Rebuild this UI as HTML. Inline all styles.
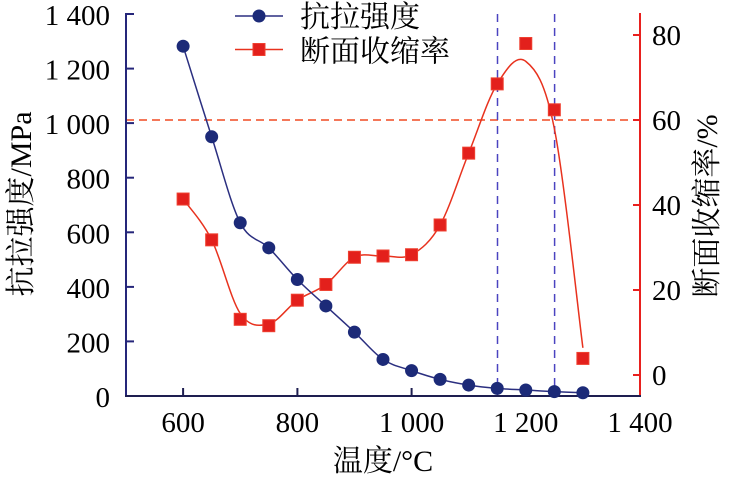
<!DOCTYPE html>
<html><head><meta charset="utf-8"><style>
html,body{margin:0;padding:0;background:#fff;}
svg{display:block;}
.num{font-family:"Liberation Serif","Noto Serif CJK SC",serif;font-size:29px;fill:#000;}
.cjk{font-family:"Liberation Serif","Noto Serif CJK SC",serif;font-size:30px;fill:#000;}
</style></head><body>
<svg id="c" width="731" height="480" viewBox="0 0 731 480" xmlns="http://www.w3.org/2000/svg">
<!-- dashed reference lines -->
<line x1="126" y1="120" x2="640" y2="120" stroke="#f04a22" stroke-width="1.5" stroke-dasharray="8,5"/>
<line x1="497.5" y1="14" x2="497.5" y2="396" stroke="#4a44c0" stroke-width="1.5" stroke-dasharray="8,6"/>
<line x1="554.6" y1="14" x2="554.6" y2="396" stroke="#4a44c0" stroke-width="1.5" stroke-dasharray="8,6"/>
<!-- axes -->
<line x1="126" y1="13" x2="126" y2="397" stroke="#25267a" stroke-width="2"/>
<line x1="640" y1="13" x2="640" y2="397" stroke="#e8201e" stroke-width="2"/>
<line x1="125" y1="396" x2="641" y2="396" stroke="#1e1e50" stroke-width="2"/>
<g stroke="#25267a" stroke-width="2">
<line x1="126" y1="14" x2="134" y2="14"/>
<line x1="126" y1="68.6" x2="134" y2="68.6"/>
<line x1="126" y1="123.1" x2="134" y2="123.1"/>
<line x1="126" y1="177.7" x2="134" y2="177.7"/>
<line x1="126" y1="232.3" x2="134" y2="232.3"/>
<line x1="126" y1="286.9" x2="134" y2="286.9"/>
<line x1="126" y1="341.4" x2="134" y2="341.4"/>
</g>
<g stroke="#1e1e50" stroke-width="2">
<line x1="183.1" y1="396" x2="183.1" y2="388"/>
<line x1="297.4" y1="396" x2="297.4" y2="388"/>
<line x1="411.6" y1="396" x2="411.6" y2="388"/>
<line x1="525.8" y1="396" x2="525.8" y2="388"/>
</g>
<g stroke="#e8201e" stroke-width="2">
<line x1="640" y1="35" x2="633" y2="35"/>
<line x1="640" y1="120" x2="633" y2="120"/>
<line x1="640" y1="205" x2="633" y2="205"/>
<line x1="640" y1="290" x2="633" y2="290"/>
<line x1="640" y1="375" x2="633" y2="375"/>
</g>
<!-- left tick labels -->
<g class="num" text-anchor="end">
<text x="110" y="25">1 400</text>
<text x="110" y="79.6">1 200</text>
<text x="110" y="134.1">1 000</text>
<text x="110" y="188.7">800</text>
<text x="110" y="243.3">600</text>
<text x="110" y="297.9">400</text>
<text x="110" y="352.4">200</text>
<text x="110" y="407">0</text>
</g>
<!-- bottom tick labels -->
<g class="num" text-anchor="middle">
<text x="183.1" y="432">600</text>
<text x="297.4" y="432">800</text>
<text x="411.6" y="432">1 000</text>
<text x="525.8" y="432">1 200</text>
<text x="640" y="432">1 400</text>
</g>
<!-- right tick labels -->
<g class="num" text-anchor="start">
<text x="652" y="45">80</text>
<text x="652" y="130">60</text>
<text x="652" y="215">40</text>
<text x="652" y="300">20</text>
<text x="652" y="385">0</text>
</g>
<!-- titles -->
<text class="cjk" x="383" y="471" text-anchor="middle">温度/°C</text>
<text class="cjk" text-anchor="middle" transform="translate(31,204) rotate(-90)">抗拉强度/MPa</text>
<text class="cjk" text-anchor="middle" transform="translate(717,206) rotate(-90)">断面收缩率/%</text>
<!-- legend -->
<line x1="235" y1="16" x2="283" y2="16" stroke="#2b2f80" stroke-width="1.5"/>
<circle cx="259" cy="16" r="6.5" fill="#1c2a78"/>
<line x1="235" y1="49.5" x2="283" y2="49.5" stroke="#e8321e" stroke-width="1.5"/>
<rect x="253" y="43.5" width="12" height="12" fill="#e3201c" stroke="#ef4030" stroke-width="1"/>
<text class="cjk" x="300" y="27">抗拉强度</text>
<text class="cjk" x="300" y="61.5">断面收缩率</text>
<g id="series"></g>
</svg>
<script>
(function(){
  var ns="http://www.w3.org/2000/svg";
  function X(t){return 126+(t-500)*514/900;}
  function YL(v){return 396-v*382/1400;}
  function YR(v){return 375-v*4.25;}
  var T=[];for(var t=600;t<=1300;t+=50)T.push(t);
  var blue=[1282,950,635,543,427,330,234,134,93,61,40,28,22,16,12];
  var redPts=[41.4,31.8,13.1,11.6,17.6,21.3,27.7,28,28.3,35.3,52.2,68.5,78,62.4,3.9];
  var redCurve=[41.4,31.8,14.5,12,17.6,21.3,27.7,28,28.3,35.3,52.2,68.5,73.8,58,6.4];
  function cr(P){
    var d="M"+P[0][0].toFixed(2)+","+P[0][1].toFixed(2);
    for(var i=0;i<P.length-1;i++){
      var p0=P[i-1]||P[i],p1=P[i],p2=P[i+1],p3=P[i+2]||P[i+1];
      var c1=[p1[0]+(p2[0]-p0[0])/6,p1[1]+(p2[1]-p0[1])/6];
      var c2=[p2[0]-(p3[0]-p1[0])/6,p2[1]-(p3[1]-p1[1])/6];
      d+=" C"+c1[0].toFixed(2)+","+c1[1].toFixed(2)+" "+c2[0].toFixed(2)+","+c2[1].toFixed(2)+" "+p2[0].toFixed(2)+","+p2[1].toFixed(2);
    }
    return d;
  }
  var g=document.getElementById("series");
  function el(n,a){var e=document.createElementNS(ns,n);for(var k in a)e.setAttribute(k,a[k]);g.appendChild(e);return e;}
  var bp=T.map(function(t,i){return [X(t),YL(blue[i])];});
  var rp=T.map(function(t,i){return [X(t),YR(redCurve[i])];});
  el("path",{d:cr(rp),fill:"none",stroke:"#e8321e","stroke-width":"1.5"});
  el("path",{d:cr(bp),fill:"none",stroke:"#2b2f80","stroke-width":"1.5"});
  T.forEach(function(t,i){
    el("rect",{x:(X(t)-6).toFixed(2),y:(YR(redPts[i])-6).toFixed(2),width:12,height:12,fill:"#e3201c",stroke:"#ef4030","stroke-width":1});
  });
  T.forEach(function(t,i){
    el("circle",{cx:X(t).toFixed(2),cy:YL(blue[i]).toFixed(2),r:6.5,fill:"#1c2a78"});
  });
})();
</script>
</body></html>
